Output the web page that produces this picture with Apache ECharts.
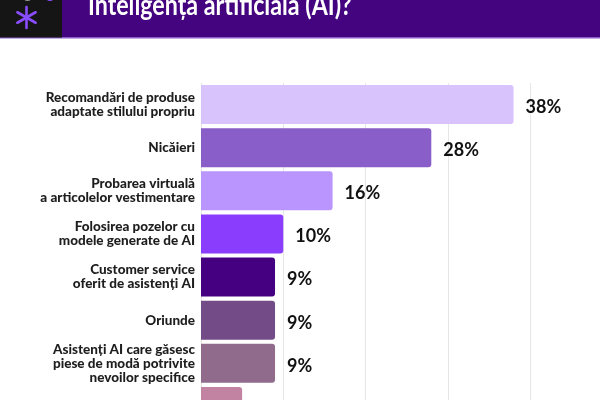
<!DOCTYPE html>
<html><head><meta charset="utf-8">
<script src="https://cdn.jsdelivr.net/npm/echarts@6/dist/echarts.min.js"></script>
<style>html,body{margin:0;padding:0;background:#fff}#c{width:600px;height:400px}</style>
</head><body><div id="c"></div>
<script>
const categories = [
  "Recomandări de produse\nadaptate stilului propriu",
  "Nicăieri",
  "Probarea virtuală\na articolelor vestimentare",
  "Folosirea pozelor cu\nmodele generate de AI",
  "Customer service\noferit de asistenți AI",
  "Oriunde",
  "Asistenți AI care găsesc\npiese de modă potrivite\nnevoilor specifice",
  ""
];
const values = [38, 28, 16, 10, 9, 9, 9, 5];
const colors = ["#d9c3fd", "#8a5ec8", "#b995fd", "#8a3dfd", "#450082", "#734c87", "#906b8c", "#c283a2"];
const title = "Inteligența artificială (AI)?";

const chart = echarts.init(document.getElementById('c'), null, {renderer: 'canvas'});
const cx = 26.5, cy = 17.5, r = 10.5;
const spokes = [90, 30, 150].map(a => {
  const t = a * Math.PI / 180;
  return {type: 'line', shape: {x1: cx - r * Math.cos(t), y1: cy - r * Math.sin(t), x2: cx + r * Math.cos(t), y2: cy + r * Math.sin(t)},
    style: {stroke: '#8a4dfd', lineWidth: 2.6, lineCap: 'round'}};
});
chart.setOption({
  animation: false,
  grid: {left: 201, right: 70, top: 83, height: 345, containLabel: false, outerBoundsMode: 'none'},
  xAxis: {type: 'value', min: 0, max: 40, interval: 10,
    axisLabel: {show: false}, axisLine: {show: false}, axisTick: {show: false},
    splitLine: {lineStyle: {color: '#e6e6e6', width: 1}}},
  yAxis: {type: 'category', data: categories, inverse: true,
    axisLine: {show: false}, axisTick: {show: false},
    axisLabel: {fontFamily: 'Lato', fontWeight: 900, fontSize: 13.5, lineHeight: 14, color: '#1e1e1e', margin: 6, align: 'right'}},
  series: [{type: 'bar', barWidth: 39,
    data: values.map((v, i) => ({value: v, itemStyle: {color: colors[i]}})),
    itemStyle: {borderRadius: [0, 3, 3, 0]},
    label: {show: true, position: 'right', distance: 12, offset: [0, 2.5], formatter: '{c}%',
      fontFamily: 'Lato', fontWeight: 'bold', fontSize: 18, color: '#111'}}],
  graphic: [
    {type: 'rect', shape: {x: 0, y: 0, width: 600, height: 37}, style: {fill: '#44037f'}},
    {type: 'rect', shape: {x: 0, y: 37, width: 600, height: 1.5}, style: {fill: '#8a5ec8'}},
    {type: 'rect', shape: {x: 0, y: 0, width: 62, height: 37.5}, style: {fill: '#151515'}},
    {type: 'circle', shape: {cx: 27.5, cy: -3, r: 4}, style: {fill: '#9a9a9a'}},
    {type: 'circle', shape: {cx: 50, cy: -3, r: 4}, style: {fill: '#8a4dfd'}},
    ...spokes,
    {type: 'text', x: 88, y: -8, scaleX: 0.83, style: {text: title, fill: '#fff', font: 'bold 28px Lato', verticalAlign: 'top', align: 'left'}}
  ]
});
</script></body></html>
